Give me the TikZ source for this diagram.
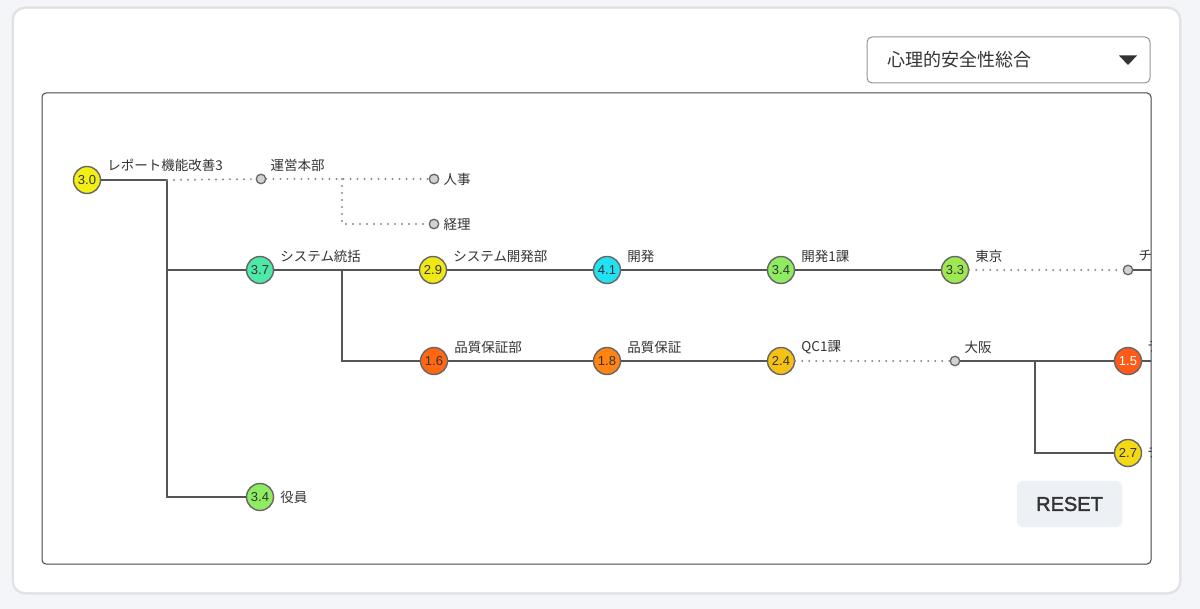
\documentclass[tikz,border=0pt]{standalone}
\usepackage{fontspec}
\setmainfont{Noto Sans CJK JP}
\newfontfamily\numfont{Liberation Sans}
\newfontfamily\btnfont{Liberation Sans}[FakeBold=2]
\usetikzlibrary{calc,positioning}
\definecolor{pagebg}{HTML}{F4F5F8}
\definecolor{cardline}{HTML}{E2E2E5}
\definecolor{framec}{HTML}{444444}
\definecolor{linkc}{HTML}{555555}
\definecolor{dotc}{HTML}{8A8A8A}
\definecolor{ringc}{HTML}{666666}
\definecolor{stubc}{HTML}{D2D2D2}
\definecolor{txtc}{HTML}{333333}
\definecolor{btnbg}{HTML}{EDF1F6}
\definecolor{c30}{HTML}{F2EF14}
\definecolor{c37}{HTML}{4EE8A8}
\definecolor{c29}{HTML}{EFE815}
\definecolor{c41}{HTML}{22E2F2}
\definecolor{c34}{HTML}{8EEC62}
\definecolor{c33}{HTML}{9EE852}
\definecolor{c16}{HTML}{FF6810}
\definecolor{c18}{HTML}{FF8412}
\definecolor{c24}{HTML}{F6C115}
\definecolor{c15}{HTML}{FF5A18}
\definecolor{c27}{HTML}{F4D916}

\begin{document}
\begin{tikzpicture}[x=1pt,y=-1pt,
    score/.style={circle,draw=ringc,line width=1.4pt,minimum size=27pt,inner sep=0pt,
        font=\numfont\fontsize{13}{13}\selectfont,text=txtc},
    stub/.style={circle,draw=ringc,fill=stubc,line width=1.3pt,minimum size=9.5pt,inner sep=0pt},
    link/.style={draw=linkc,line width=2pt},
    weak/.style={draw=dotc,line width=2.2pt,line cap=round,dash pattern=on 0pt off 7pt},
    lbl/.style={font=\fontsize{13.5}{13.5}\selectfont,text=txtc,inner sep=0pt},
    menu/.style={draw=ringc!70,line width=1pt,rounded corners=5pt,fill=white,
        minimum width=283pt,minimum height=46pt},
    button/.style={fill=btnbg,rounded corners=5pt,minimum width=105pt,minimum height=46pt,
        font=\btnfont\fontsize{20}{20}\selectfont,text=txtc},
]
\useasboundingbox (0,0) rectangle (1200,609);
\fill[pagebg] (0,0) rectangle (1200,609);
% card
\draw[cardline,line width=3pt,rounded corners=12pt] (13,8) rectangle (1180,593);
\fill[white,rounded corners=11pt] (14,9) rectangle (1179,592);

% selector
\node[menu] (sel) at (1008.5,60) {};
\node[font=\fontsize{18}{18}\selectfont,text=txtc,anchor=west,inner sep=0pt] (seltxt) at (887,60) {心理的安全性総合};
\fill[txtc] (1119,55.5) -- (1137,55.5) -- (1128,65) -- cycle;

% tree
\begin{scope}
\clip[rounded corners=4pt] (42,93) rectangle (1151,564);
\coordinate (b1) at (167,180);
\coordinate (b2) at (342,179);
\coordinate (b3) at (342,270);
\coordinate (b4) at (1035,361);
\coordinate (e1) at (1170,270);
\coordinate (e2) at (1170,361);

\node[score,fill=c30] (n30) at (87,180) {3.0};
\node[stub] (m0) at (261,179) {};
\node[stub] (jinji) at (434,179) {};
\node[stub] (keiri) at (434,224) {};
\node[score,fill=c37] (n37) at (260,270) {3.7};
\node[score,fill=c29] (n29) at (433,270) {2.9};
\node[score,fill=c41] (n41) at (607,270) {4.1};
\node[score,fill=c34] (n34) at (781,270) {3.4};
\node[score,fill=c33] (n33) at (955,270) {3.3};
\node[stub] (chi) at (1128,270) {};
\node[score,fill=c16] (n16) at (434,361) {1.6};
\node[score,fill=c18] (n18) at (607,361) {1.8};
\node[score,fill=c24] (n24) at (781,361) {2.4};
\node[stub] (osaka) at (955,361) {};
\node[score,fill=c15,text=white] (n15) at (1128,361) {1.5};
\node[score,fill=c27] (n27) at (1128,453) {2.7};
\node[score,fill=c34] (n34b) at (260,497) {3.4};

\draw[link] (n30) -- (b1) |- (n37);
\draw[link] (b1) |- (n34b);
\draw[weak] (b1) -- (m0);
\draw[weak] (m0) -- (jinji);
\draw[weak] (b2) |- (keiri);
\draw[link] (n37) -- (n29) -- (n41) -- (n34) -- (n33);
\draw[weak] (n33) -- (chi);
\draw[link] (chi) -- (e1);
\draw[link] (b3) |- (n16);
\draw[link] (n16) -- (n18) -- (n24);
\draw[weak] (n24) -- (osaka);
\draw[link] (osaka) -- (n15) -- (e2);
\draw[link] (b4) |- (n27);

\node[lbl,anchor=west] (t30) at ([shift={(6,-15)}]n30.east) {レポート機能改善3};
\node[lbl,anchor=west] (tm0) at ([shift={(4,-14)}]m0.east) {運営本部};
\node[lbl,anchor=west] (tjinji) at ([xshift=4]jinji.east) {人事};
\node[lbl,anchor=west] (tkeiri) at ([xshift=4]keiri.east) {経理};
\node[lbl,anchor=west] (t37) at ([shift={(6,-14)}]n37.east) {システム統括};
\node[lbl,anchor=west] (t29) at ([shift={(6,-14)}]n29.east) {システム開発部};
\node[lbl,anchor=west] (t41) at ([shift={(6,-14)}]n41.east) {開発};
\node[lbl,anchor=west] (t34) at ([shift={(6,-14)}]n34.east) {開発1課};
\node[lbl,anchor=west] (t33) at ([shift={(6,-14)}]n33.east) {東京};
\node[lbl,anchor=west] (tchi) at ([shift={(5,-14)}]chi.east) {チ};
\node[lbl,anchor=west] (t16) at ([shift={(6,-14)}]n16.east) {品質保証部};
\node[lbl,anchor=west] (t18) at ([shift={(6,-14)}]n18.east) {品質保証};
\node[lbl,anchor=west] (t24) at ([shift={(6,-14)}]n24.east) {QC1課};
\node[lbl,anchor=west] (tosaka) at ([shift={(4,-14)}]osaka.east) {大阪};
\node[lbl,anchor=west] (t15) at ([shift={(5,-14)}]n15.east) {テ};
\node[lbl,anchor=west] (t27) at ([xshift=5]n27.east) {チ};
\node[lbl,anchor=west] (t34b) at ([xshift=6]n34b.east) {役員};
\end{scope}
\draw[framec,line width=1pt,rounded corners=4pt] (42,93) rectangle (1151,564);

\node[button] (reset) at (1069.5,504) {RESET};
\end{tikzpicture}
\end{document}
